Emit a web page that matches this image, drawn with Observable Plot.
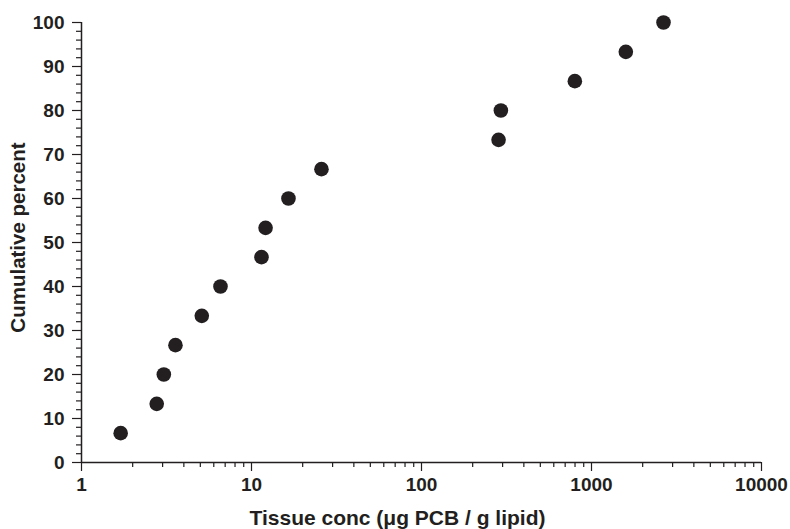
<!DOCTYPE html>
<html>
<head>
<meta charset="utf-8">
<script src="https://cdn.jsdelivr.net/npm/d3@7"></script>
<script src="https://cdn.jsdelivr.net/npm/@observablehq/plot@0.6"></script>
<style>
  html, body { margin: 0; padding: 0; background: #fff; }
</style>
</head>
<body>
<div id="chart"></div>
<script>
const concentration = [1.70, 2.77, 3.05, 3.57, 5.10, 6.57, 11.45, 12.1, 16.5, 25.8, 284, 293, 798, 1592, 2652];
const cumulativePercent = [6.67, 13.33, 20, 26.67, 33.33, 40, 46.67, 53.33, 60, 66.67, 73.33, 80, 86.67, 93.33, 100];
const xMajorTicks = [1, 10, 100, 1000, 10000];
const yMajorTicks = [0, 10, 20, 30, 40, 50, 60, 70, 80, 90, 100];
const xTitle = "Tissue conc (μg PCB / g lipid)";
const yTitle = "Cumulative percent";

const data = concentration.map((c, i) => ({x: c, y: cumulativePercent[i]}));
const xMinorTicks = d3.scaleLog().domain([1, 10000]).ticks().filter(t => !xMajorTicks.includes(t));
const yMinorTicks = d3.range(0, 101, 2).filter(t => !yMajorTicks.includes(t));

const ink = "#231f20";

const chart = Plot.plot({
  width: 790,
  height: 529,
  marginLeft: 81,
  marginRight: 29,
  marginTop: 22,
  marginBottom: 67,
  style: {fontFamily: "'Liberation Sans', Arial, sans-serif", fontWeight: "bold", fontSize: "19px", color: ink, background: "#fff"},
  x: {type: "log", domain: [1, 10000]},
  y: {domain: [0, 100]},
  marks: [
    Plot.axisX(xMinorTicks, {tickSize: 5, text: null, label: null, stroke: ink, strokeWidth: 1.2}),
    Plot.axisX(xMajorTicks, {tickSize: 9, tickPadding: 6, tickFormat: d => String(d), label: null, stroke: ink, strokeWidth: 1.2, fill: ink, fontSize: 19, fontWeight: "bold"}),
    Plot.axisY(yMinorTicks, {tickSize: 5, text: null, label: null, stroke: ink, strokeWidth: 1.2}),
    Plot.axisY(yMajorTicks, {tickSize: 9, tickPadding: 8, tickFormat: d => String(d), label: null, stroke: ink, strokeWidth: 1.2, fill: ink, fontSize: 19, fontWeight: "bold"}),
    Plot.ruleY([0], {stroke: ink, strokeWidth: 1.5}),
    Plot.ruleX([1], {stroke: ink, strokeWidth: 1.5}),
    Plot.dot(data, {x: "x", y: "y", r: 7.3, fill: ink, stroke: "none"}),
    Plot.text([xTitle], {frameAnchor: "bottom", textAnchor: "middle", lineAnchor: "middle", dy: 56, dx: -24, fontSize: 21, fontWeight: "bold", fill: ink}),
    Plot.text([yTitle], {frameAnchor: "left", textAnchor: "middle", rotate: -90, lineAnchor: "middle", dx: -63, dy: -5, fontSize: 20.5, fontWeight: "bold", fill: ink})
  ]
});
document.getElementById("chart").appendChild(chart);
</script>
</body>
</html>
